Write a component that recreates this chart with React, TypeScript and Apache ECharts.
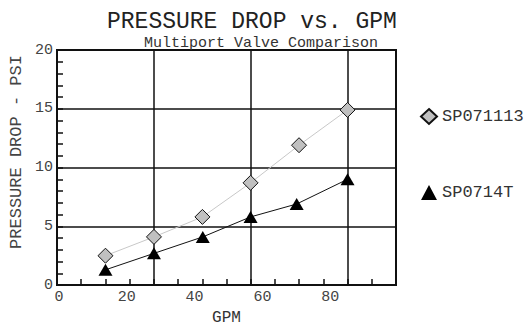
import React, { useEffect, useRef } from "react";
import * as echarts from "echarts";

const gpmA = [14.3, 28.6, 42.9, 57.1, 71.4, 85.7];
const psiA = [2.5, 4.1, 5.8, 8.7, 11.9, 14.9];
const gpmB = [14.3, 28.6, 43.0, 57.1, 70.7, 85.7];
const psiB = [1.3, 2.7, 4.1, 5.8, 6.9, 9.0];
const seriesNames = ["SP071113", "SP0714T"];

const FONT = "'Liberation Mono', 'Courier New', monospace";

export default function App() {
  const ref = useRef<HTMLDivElement>(null);
  useEffect(() => {
    const chart = echarts.init(ref.current!, null, { renderer: "svg" });
    const dataA = gpmA.map((x, i) => [x, psiA[i]]);
    const dataB = gpmB.map((x, i) => [x, psiB[i]]);
    chart.setOption({
      animation: false,
      backgroundColor: "#fff",
      title: [
        {
          text: "PRESSURE DROP vs. GPM",
          left: 102,
          top: 5,
          textStyle: { fontFamily: FONT, fontSize: 23, fontWeight: "normal", color: "#222", lineHeight: 24 },
        },
        {
          text: "Multiport Valve Comparison",
          left: 139,
          top: 30,
          textStyle: { fontFamily: FONT, fontSize: 15, fontWeight: "normal", color: "#333", lineHeight: 16 },
        },
      ],
      graphic: [
        {
          type: "text",
          x: 16,
          y: 152,
          rotation: Math.PI / 2,
          style: {
            text: "PRESSURE DROP - PSI",
            font: `normal 17px ${FONT}`,
            fill: "#444",
            align: "center",
            verticalAlign: "middle",
          },
        },
      ],
      legend: {
        orient: "vertical",
        left: 415,
        top: 103,
        itemWidth: 16,
        itemHeight: 15,
        itemGap: 59,
        textStyle: { fontFamily: FONT, fontSize: 17, color: "#333", lineHeight: 15 },
        data: [
          { name: seriesNames[0], icon: "diamond" },
          { name: seriesNames[1], icon: "triangle" },
        ],
      },
      grid: {
        left: 57,
        top: 50,
        width: 339,
        height: 246,
        show: true,
        borderColor: "#111",
        borderWidth: 2,
        containLabel: false,
      },
      xAxis: [
        {
          type: "value",
          min: 0,
          max: 100,
          interval: 20,
          position: "bottom",
          name: "GPM",
          nameLocation: "middle",
          nameGap: 22,
          nameTextStyle: { fontFamily: FONT, fontSize: 16, color: "#333" },
          axisLine: { show: true, lineStyle: { color: "#111", width: 2 } },
          axisTick: { show: false },
          splitLine: { show: false },
          axisLabel: {
            showMaxLabel: false,
            fontFamily: FONT,
            fontSize: 15,
            color: "#444",
            margin: 5,
            padding: [0, 0, 0, 4],
          },
        },
        {
          type: "value",
          min: 0,
          max: 100,
          interval: 100 / 14,
          position: "bottom",
          axisLine: { show: false },
          axisTick: { show: true, inside: true, length: 6, lineStyle: { color: "#111", width: 1.5 } },
          axisLabel: { show: false },
          splitLine: { show: false },
        },
        {
          type: "value",
          min: 0,
          max: 100,
          interval: 200 / 7,
          position: "bottom",
          axisLine: { show: false },
          axisTick: { show: false },
          axisLabel: { show: false },
          splitLine: { show: true, lineStyle: { color: "#111", width: 1.5 } },
        },
      ],
      yAxis: [
        {
          type: "value",
          min: 0,
          max: 20,
          interval: 5,
          axisLine: { show: true, lineStyle: { color: "#111", width: 2 } },
          axisTick: { show: true, inside: true, length: 6, lineStyle: { color: "#111", width: 1.5 } },
          minorTick: { show: true, splitNumber: 5, length: 6, lineStyle: { color: "#111", width: 1.5 } },
          splitLine: { show: true, lineStyle: { color: "#111", width: 1.5 } },
          axisLabel: { fontFamily: FONT, fontSize: 15, color: "#444", margin: 4 },
        },
      ],
      series: [
        {
          name: seriesNames[0],
          type: "line",
          xAxisIndex: 0,
          data: dataA,
          symbol: "diamond",
          symbolSize: 15,
          lineStyle: { color: "#c8c8c8", width: 1 },
          itemStyle: { color: "#c0c0c0", borderColor: "#111", borderWidth: 1 },
          z: 5,
        },
        {
          name: seriesNames[1],
          type: "line",
          xAxisIndex: 0,
          data: dataB,
          symbol: "triangle",
          symbolSize: [14, 12],
          lineStyle: { color: "#111", width: 1 },
          itemStyle: { color: "#000", borderColor: "#000", borderWidth: 0 },
          z: 5,
        },
      ],
    });
    return () => chart.dispose();
  }, []);
  return (
    <div
      ref={ref}
      style={{ position: "fixed", left: 0, top: 0, width: 528, height: 331 }}
    />
  );
}
